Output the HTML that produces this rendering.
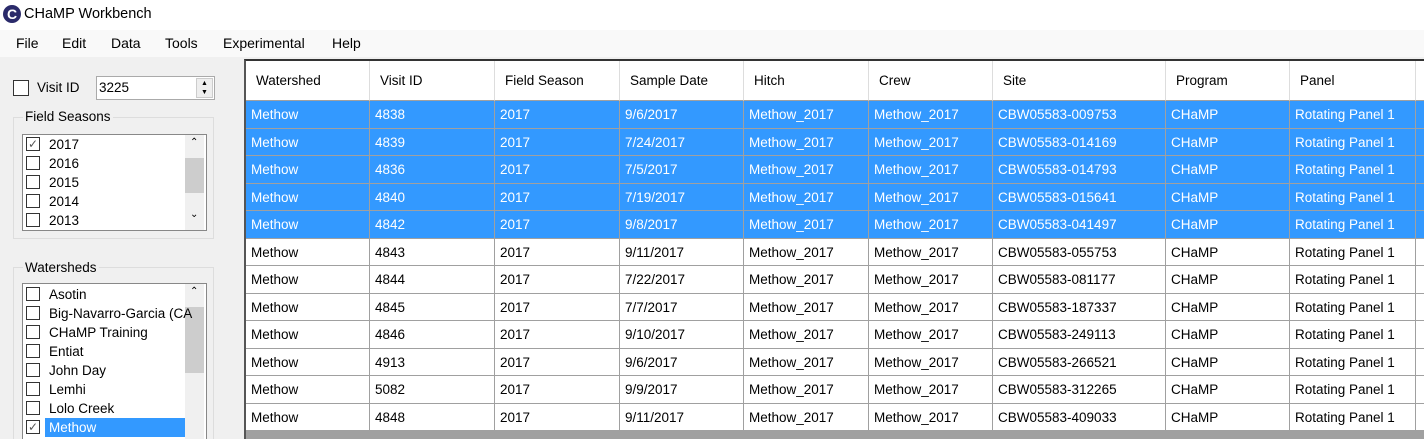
<!DOCTYPE html>
<html style="width:1424px;height:439px;overflow:hidden"><head><meta charset="utf-8"><style>
*{box-sizing:border-box;margin:0;padding:0}
body{width:1424px;height:439px;overflow:hidden;background:#f0f0f0;font-family:"Liberation Sans",sans-serif;font-size:13.5px;color:#000;position:relative}
.a{position:absolute}
.cb{position:absolute;width:14px;height:14px;border:1px solid #333;background:#fff}
.li{position:absolute;left:26px;height:19px;line-height:19px;white-space:nowrap}
.cell{position:absolute;height:27.5px;line-height:27px;padding-left:5px;border-right:1px solid #a0a0a0;border-bottom:1px solid #a0a0a0;white-space:nowrap;overflow:hidden}
.sel{background:#3399ff;color:#fff}
.hd{position:absolute;top:61px;height:40px;line-height:40px;padding-left:10px;background:#fff;border-right:1px solid #ddd;border-bottom:1px solid #a0a0a0}
</style></head><body>
<div class="a" style="left:0;top:0;width:1424px;height:30px;background:#fff">
 <div class="a" style="left:3px;top:5px;width:18px;height:18px;border-radius:50%;background:#2a2a6a;color:#fff;font-weight:bold;font-size:14px;text-align:center;line-height:18px">C</div>
 <div class="a" style="left:24px;top:6px;font-size:14.5px">CHaMP Workbench</div>
</div>
<div class="a" style="left:0;top:30px;width:1424px;height:27px;background:#f9f9f9;font-size:14px">
 <span class="a" style="left:16px;top:5px">File</span>
 <span class="a" style="left:62px;top:5px">Edit</span>
 <span class="a" style="left:111px;top:5px">Data</span>
 <span class="a" style="left:165px;top:5px">Tools</span>
 <span class="a" style="left:223px;top:5px">Experimental</span>
 <span class="a" style="left:332px;top:5px">Help</span>
</div>
<div class="cb" style="left:13px;top:80px;width:16px;height:16px"></div>
<span class="a" style="left:37px;top:80px">Visit ID</span>
<div class="a" style="left:96px;top:76px;width:119px;height:24px;background:#fff;border:1px solid #aaa">
 <span class="a" style="left:2px;top:3px">3225</span>
 <div class="a" style="right:1px;top:1px;width:17px;height:20px;background:#eee;border:1px solid #ccc;font-size:7px;text-align:center;line-height:9px">▲<br>▼</div>
</div>
<div class="a" style="left:13px;top:117px;width:201px;height:122px;border:1px solid #ddd"></div>
<span class="a" style="left:23px;top:109px;background:#f0f0f0;padding:0 2px">Field Seasons</span>
<div class="a" style="left:22px;top:134px;width:185px;height:97px;background:#fff;border:1px solid #888">
 <div class="a" style="left:162px;top:0;width:19px;height:95px;background:#f0f0f0"><div class="a" style="left:0;top:23px;width:19px;height:35px;background:#cdcdcd"></div><div class="a" style="left:5px;top:2px;font-size:10px">⌃</div><div class="a" style="left:5px;top:74px;font-size:10px">⌄</div></div>
 <div class="cb" style="left:3px;top:2px;text-align:center;line-height:12px;font-size:12px;color:#555">✓</div><div class="li" style="top:0">2017</div>
 <div class="cb" style="left:3px;top:21px"></div><div class="li" style="top:19px">2016</div>
 <div class="cb" style="left:3px;top:40px"></div><div class="li" style="top:38px">2015</div>
 <div class="cb" style="left:3px;top:59px"></div><div class="li" style="top:57px">2014</div>
 <div class="cb" style="left:3px;top:78px"></div><div class="li" style="top:76px">2013</div>
</div>
<div class="a" style="left:13px;top:267px;width:201px;height:172px;border:1px solid #ddd;border-bottom:none"></div>
<span class="a" style="left:23px;top:260px;background:#f0f0f0;padding:0 2px">Watersheds</span>
<div class="a" style="left:22px;top:283px;width:185px;height:156px;background:#fff;border:1px solid #888;border-bottom:none;overflow:hidden">
 <div class="a" style="left:162px;top:0;width:19px;height:170px;background:#f0f0f0"><div class="a" style="left:0;top:23px;width:19px;height:66px;background:#cdcdcd"></div><div class="a" style="left:5px;top:2px;font-size:10px">⌃</div></div>
 <div class="cb" style="left:3px;top:3px"></div><div class="li" style="top:1px">Asotin</div>
 <div class="cb" style="left:3px;top:22px"></div><div class="li" style="top:20px">Big-Navarro-Garcia (CA</div>
 <div class="cb" style="left:3px;top:41px"></div><div class="li" style="top:39px">CHaMP Training</div>
 <div class="cb" style="left:3px;top:60px"></div><div class="li" style="top:58px">Entiat</div>
 <div class="cb" style="left:3px;top:79px"></div><div class="li" style="top:77px">John Day</div>
 <div class="cb" style="left:3px;top:98px"></div><div class="li" style="top:96px">Lemhi</div>
 <div class="cb" style="left:3px;top:117px"></div><div class="li" style="top:115px">Lolo Creek</div>
 <div class="cb" style="left:3px;top:136px;text-align:center;line-height:12px;font-size:12px;color:#555">✓</div><div class="li" style="top:134px;left:22px;width:140px;padding-left:4px;background:#3399ff;color:#fff">Methow</div>
 <div class="cb" style="left:3px;top:155px"></div>
</div>
<div class="a" style="left:244px;top:59px;width:1180px;height:380px;background:#a0a0a0;border-top:2px solid #333;border-left:2px solid #555" id="grid"></div>
<script>
const cols=["Watershed","Visit ID","Field Season","Sample Date","Hitch","Crew","Site","Program","Panel"];
const xs=[246,370,495,620,744,869,993,1166,1290,1416];
const ids=["4838","4839","4836","4840","4842","4843","4844","4845","4846","4913","5082","4848"];
const dates=["9/6/2017","7/24/2017","7/5/2017","7/19/2017","9/8/2017","9/11/2017","7/22/2017","7/7/2017","9/10/2017","9/6/2017","9/9/2017","9/11/2017"];
const sites=["009753","014169","014793","015641","041497","055753","081177","187337","249113","266521","312265","409033"];
const b=document.body;
cols.forEach((c,i)=>{const d=document.createElement('div');d.className='hd';d.style.left=xs[i]+'px';d.style.width=(xs[i+1]-xs[i])+'px';d.textContent=c;


b.appendChild(d);});
{const d=document.createElement('div');d.className='hd';d.style.left='1416px';d.style.width='8px';b.appendChild(d);}
ids.forEach((id,r)=>{const vals=["Methow",id,"2017",dates[r],"Methow_2017","Methow_2017","CBW05583-"+sites[r],"CHaMP","Rotating Panel 1",""];
 vals.forEach((v,i)=>{const d=document.createElement('div');d.className='cell'+(r<5?' sel':'');d.style.background=r<5?'#3399ff':'#fff';
 d.style.left=xs[i]+'px';d.style.top=(101+r*27.5)+'px';d.style.width=((xs[i+1]||1430)-xs[i])+'px';d.textContent=v;
 
 
 b.appendChild(d);});});
</script>
</body></html>
